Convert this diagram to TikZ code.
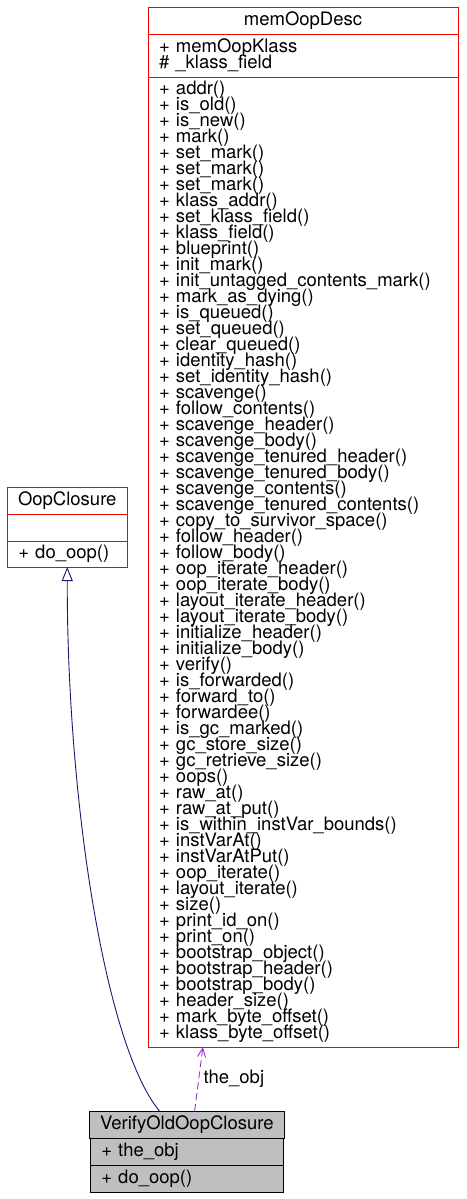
\documentclass[tikz,border=0pt]{standalone}
\usepackage{fontspec}
\setmainfont{TeX Gyre Heros}
\usetikzlibrary{arrows.meta,calc,positioning}
\definecolor{umlred}{HTML}{FF0000}
\definecolor{umlnavy}{HTML}{191970}
\definecolor{umlpurple}{HTML}{9A32CD}
\definecolor{umlgrey}{HTML}{BFBFBF}
\newcommand{\umlfont}{\fontsize{18.5pt}{16pt}\selectfont\lineskiplimit=-100pt}

\begin{document}
\begin{tikzpicture}[
  x=1pt,y=-1pt,
  clspart/.style={draw=umlred,line width=0.9pt,outer sep=0pt,inner xsep=11pt,inner ysep=0pt,font=\umlfont},
  clstitle/.style={clspart,align=center,minimum height=27pt},
  clsbody/.style={clspart,align=left},
  current/.style={draw=black,fill=umlgrey},
  inherit/.style={umlnavy,line width=0.9pt,-{Triangle[open,length=14pt,width=11pt]}},
  usage/.style={umlpurple,line width=0.9pt,dash pattern=on 7pt off 4pt,-{Straight Barb[length=9pt,width=8pt]}}
]
\useasboundingbox (0,0) rectangle (466,1199);

% memOopDesc
\node[clstitle,minimum width=310pt,anchor=north west] (memtitle) at (148,7) {memOopDesc};
\node[clsbody,text width=288pt,minimum height=43pt,below=0pt of memtitle] (memattr)
  {+ memOopKlass\\\# \_klass\_field};
\node[clsbody,text width=288pt,minimum height=970pt,below=0pt of memattr] (memmeth)
  {+ addr()\\+ is\_old()\\+ is\_new()\\+ mark()\\+ set\_mark()\\+ set\_mark()\\+ set\_mark()\\
   + klass\_addr()\\+ set\_klass\_field()\\+ klass\_field()\\+ blueprint()\\+ init\_mark()\\
   + init\_untagged\_contents\_mark()\\+ mark\_as\_dying()\\+ is\_queued()\\+ set\_queued()\\
   + clear\_queued()\\+ identity\_hash()\\+ set\_identity\_hash()\\+ scavenge()\\
   + follow\_contents()\\+ scavenge\_header()\\+ scavenge\_body()\\+ scavenge\_tenured\_header()\\
   + scavenge\_tenured\_body()\\+ scavenge\_contents()\\+ scavenge\_tenured\_contents()\\
   + copy\_to\_survivor\_space()\\+ follow\_header()\\+ follow\_body()\\+ oop\_iterate\_header()\\
   + oop\_iterate\_body()\\+ layout\_iterate\_header()\\+ layout\_iterate\_body()\\
   + initialize\_header()\\+ initialize\_body()\\+ verify()\\+ is\_forwarded()\\+ forward\_to()\\
   + forwardee()\\+ is\_gc\_marked()\\+ gc\_store\_size()\\+ gc\_retrieve\_size()\\+ oops()\\
   + raw\_at()\\+ raw\_at\_put()\\+ is\_within\_instVar\_bounds()\\+ instVarAt()\\+ instVarAtPut()\\
   + oop\_iterate()\\+ layout\_iterate()\\+ size()\\+ print\_id\_on()\\+ print\_on()\\
   + bootstrap\_object()\\+ bootstrap\_header()\\+ bootstrap\_body()\\+ header\_size()\\
   + mark\_byte\_offset()\\+ klass\_byte\_offset()};

% OopClosure
\node[clstitle,minimum width=120pt,anchor=north west] (ooptitle) at (7,487) {OopClosure};
\node[clsbody,text width=98pt,minimum height=27pt,below=0pt of ooptitle] (oopattr) {};
\node[clsbody,text width=98pt,minimum height=26pt,below=0pt of oopattr] (oopmeth) {+ do\_oop()};

% VerifyOldOopClosure
\node[clstitle,current,minimum width=193pt,anchor=north west] (vtitle) at (89,1111) {VerifyOldOopClosure};
\node[clsbody,current,text width=171pt,minimum height=27pt,below=0pt of vtitle] (vattr) {+ the\_obj};
\node[clsbody,current,text width=171pt,minimum height=27pt,below=0pt of vattr] (vmeth) {+ do\_oop()};

\draw[inherit] ($(vtitle.north west)!0.36!(vtitle.north east)$) .. controls (105,1045) and (67,800) .. (oopmeth.south);
\draw[usage] ($(vtitle.north west)!0.54!(vtitle.north east)$) -- node[right=1pt,text=black,font=\umlfont] (objlbl) {the\_obj} ($(memmeth.south west)!0.177!(memmeth.south east)$);
\end{tikzpicture}
\end{document}
